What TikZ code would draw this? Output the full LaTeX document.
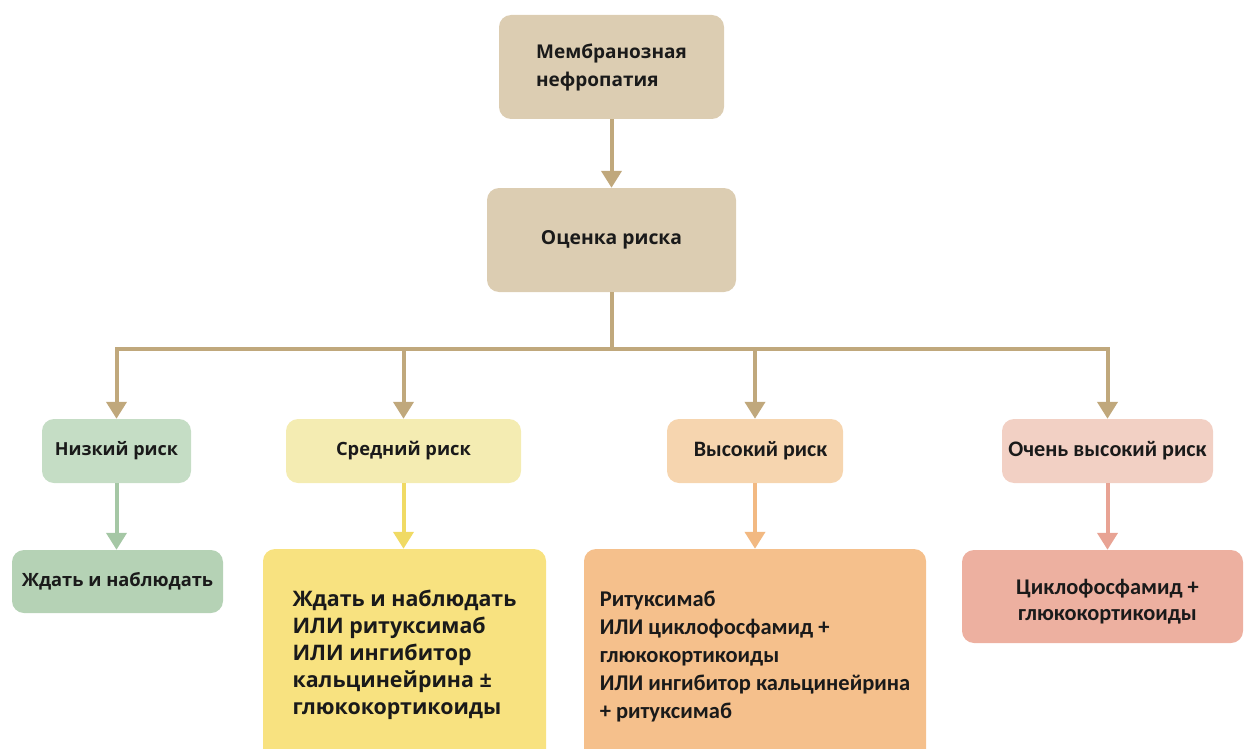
\documentclass[tikz,border=0pt]{standalone}
\usepackage{fontspec}
\setmainfont{Open Sans}
\newfontfamily\calfont{Carlito}
\usetikzlibrary{arrows.meta}
\definecolor{tanbox}{RGB}{220,205,178}
\definecolor{tanline}{RGB}{192,168,124}
\definecolor{grnA}{RGB}{197,221,197}
\definecolor{grnB}{RGB}{181,210,181}
\definecolor{grnL}{RGB}{165,199,165}
\definecolor{ylwA}{RGB}{244,236,178}
\definecolor{ylwB}{RGB}{248,226,128}
\definecolor{ylwL}{RGB}{240,218,100}
\definecolor{pchA}{RGB}{246,213,175}
\definecolor{pchB}{RGB}{245,192,140}
\definecolor{pchL}{RGB}{242,185,130}
\definecolor{pnkA}{RGB}{242,208,196}
\definecolor{pnkB}{RGB}{237,176,160}
\definecolor{pnkL}{RGB}{232,163,148}
\definecolor{txt}{RGB}{26,26,26}
\tikzset{
  box/.style={rectangle, rounded corners=12pt, draw=none, inner sep=0pt, text=txt, font=\bfseries},
  conn/.style={line width=4pt, -{Triangle[width=20pt,length=17pt]}},
  bus/.style={line width=4pt, draw=tanline},
}
\begin{document}
\begin{tikzpicture}[x=1pt,y=-1pt]
\useasboundingbox (0,0) rectangle (1244,749);
\clip (0,0) rectangle (1244,749);
% top
\node[box, fill=tanbox, minimum width=225pt, minimum height=104pt, align=left,
      font=\bfseries\fontsize{19pt}{28pt}\selectfont] (A) at (611.5,67) {Мембранозная\\нефропатия};
\node[box, fill=tanbox, minimum width=249pt, minimum height=104pt,
      font=\bfseries\fontsize{19.3pt}{28pt}\selectfont] (B) at (611.5,240) {Оценка риска};
% risk level
\node[box, fill=grnA, minimum width=149pt, minimum height=64pt,
      font=\bfseries\fontsize{18pt}{22pt}\selectfont] (low) at (116.5,451) {Низкий риск};
\node[box, fill=ylwA, minimum width=235pt, minimum height=64pt,
      font=\bfseries\fontsize{18.3pt}{22pt}\selectfont] (med) at (403.5,451) {Средний риск};
\node[box, fill=pchA, minimum width=176pt, minimum height=64pt,
      font=\calfont\bfseries\fontsize{22pt}{24pt}\selectfont] (high) at (755,451) {\hspace{11pt}Высокий риск};
\node[box, fill=pnkA, minimum width=211pt, minimum height=64pt,
      font=\calfont\bfseries\fontsize{22.2pt}{24pt}\selectfont] (vh) at (1107.5,451) {Очень высокий риск};
% results
\node[box, fill=grnB, minimum width=211pt, minimum height=63pt,
      font=\bfseries\fontsize{18.3pt}{22pt}\selectfont] (lowres) at (117.5,581.5) {Ждать и наблюдать};
\node[box, fill=ylwB, minimum width=283pt, minimum height=212pt, align=left,
      font=\bfseries\fontsize{21.4pt}{27pt}\selectfont] (medres) at (404.5,655) {Ждать и наблюдать\\ИЛИ ритуксимаб\\ИЛИ ингибитор\\кальцинейрина ±\\глюкокортикоиды};
\node[box, fill=pchB, minimum width=342pt, minimum height=216pt, align=left,
      font=\calfont\bfseries\fontsize{22.5pt}{28pt}\selectfont] (highres) at (755,657) {Ритуксимаб\\ИЛИ циклофосфамид +\\глюкокортикоиды\\ИЛИ ингибитор кальцинейрина\\+ ритуксимаб};
\node[box, fill=pnkB, minimum width=281pt, minimum height=93pt, align=center,
      font=\calfont\bfseries\fontsize{22.4pt}{26pt}\selectfont] (vhres) at (1102.5,596.5) {\rule{0pt}{26pt}\hspace{10pt}Циклофосфамид +\\\hspace{10pt}глюкокортикоиды};
% connectors
\coordinate (bus) at (611.5,349);
\draw[conn, tanline] (A.south) -- (B.north);
\draw[bus] (B.south) -- (bus);
\draw[conn, tanline] (bus) -| (low.north);
\draw[conn, tanline] (bus) -| (med.north);
\draw[conn, tanline] (bus) -| (high.north);
\draw[conn, tanline] (bus) -| (vh.north);
\draw[conn, grnL] (low.south) -- (low.south |- lowres.north);
\draw[conn, ylwL] (med.south) -- (med.south |- medres.north);
\draw[conn, pchL] (high.south) -- (high.south |- highres.north);
\draw[conn, pnkL] (vh.south) -- (vh.south |- vhres.north);
\end{tikzpicture}
\end{document}
